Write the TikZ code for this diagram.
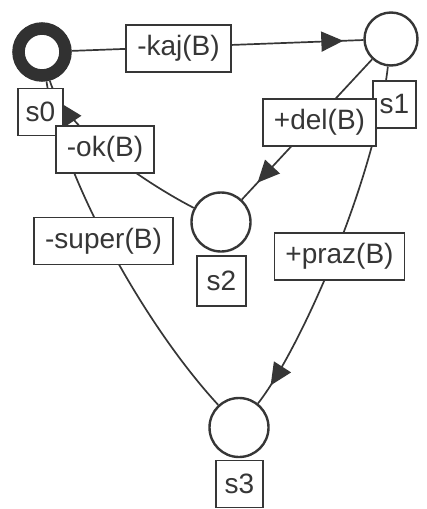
\documentclass[tikz,border=0pt]{standalone}
\usepackage{fontspec}
\setmainfont{Liberation Sans}
\usetikzlibrary{arrows.meta,decorations.markings,backgrounds}
\definecolor{ink}{HTML}{363636}
\tikzset{
  state/.style={circle,draw=ink,line width=2.4pt,fill=white,inner sep=0pt},
  initstate/.style={circle,draw=ink!90!black,line width=12.5pt,fill=white,inner sep=0pt,minimum size=47pt},
  tag/.style={rectangle,draw=ink,line width=1.8pt,fill=white,text=ink,
    inner xsep=7pt,inner ysep=0pt,minimum height=47pt,
    font=\fontsize{28}{30}\selectfont},
  evt/.style={tag,inner xsep=11pt},
  trans/.style={draw=ink,line width=1.7pt},
  tipat/.style={decoration={markings,
      mark=at position #1 with {\arrow[ink]{Triangle[length=22pt,width=20pt]}}},
    postaction={decorate}}
}
\begin{document}
\begin{tikzpicture}[x=1pt,y=-1pt]
\useasboundingbox (0,0) rectangle (426,509);

% states
\node[initstate] (s0) at (42,52) {};
\node[state,minimum size=53pt] (s1) at (391,39) {};
\node[state,minimum size=59pt] (s2) at (221,222) {};
\node[state,minimum size=59pt] (s3) at (239,427.5) {};

% state names
\node[tag,minimum width=45pt] (n0) at (40.5,112) {s0};
\node[tag,minimum width=43pt] (n1) at (394.5,104.5) {s1};
\node[tag,minimum width=49pt,minimum height=50pt] (n2) at (221.5,281) {s2};
\node[tag,minimum width=47pt] (n3) at (239.5,484) {s3};

% transition labels
\node[evt] (lkaj) at (178.5,48.5) {-kaj(B)};
\node[evt] (ldel) at (319.5,122.5) {+del(B)};
\node[evt] (lok) at (105,149.5) {-ok(B)};
\node[evt] (lsuper) at (103.5,241) {-super(B)};
\node[evt] (lpraz) at (339.5,256.5) {+praz(B)};

% transitions, kept under the labels
\begin{pgfonlayer}{background}
\path[trans,tipat=-20pt] (s0) -- (s1);
\path[trans,tipat=-23pt] (s1) -- (s2);
\path[trans,tipat=-22pt] (s1) .. controls (375,180) and (300,350) .. (s3);
\path[trans,tipat=-25pt] (s2) .. controls (140,180) and (62,125) .. (s0);
\path[trans,tipat=-25pt] (s3) .. controls (140,320) and (60,170) .. (s0);
\end{pgfonlayer}
\end{tikzpicture}
\end{document}
